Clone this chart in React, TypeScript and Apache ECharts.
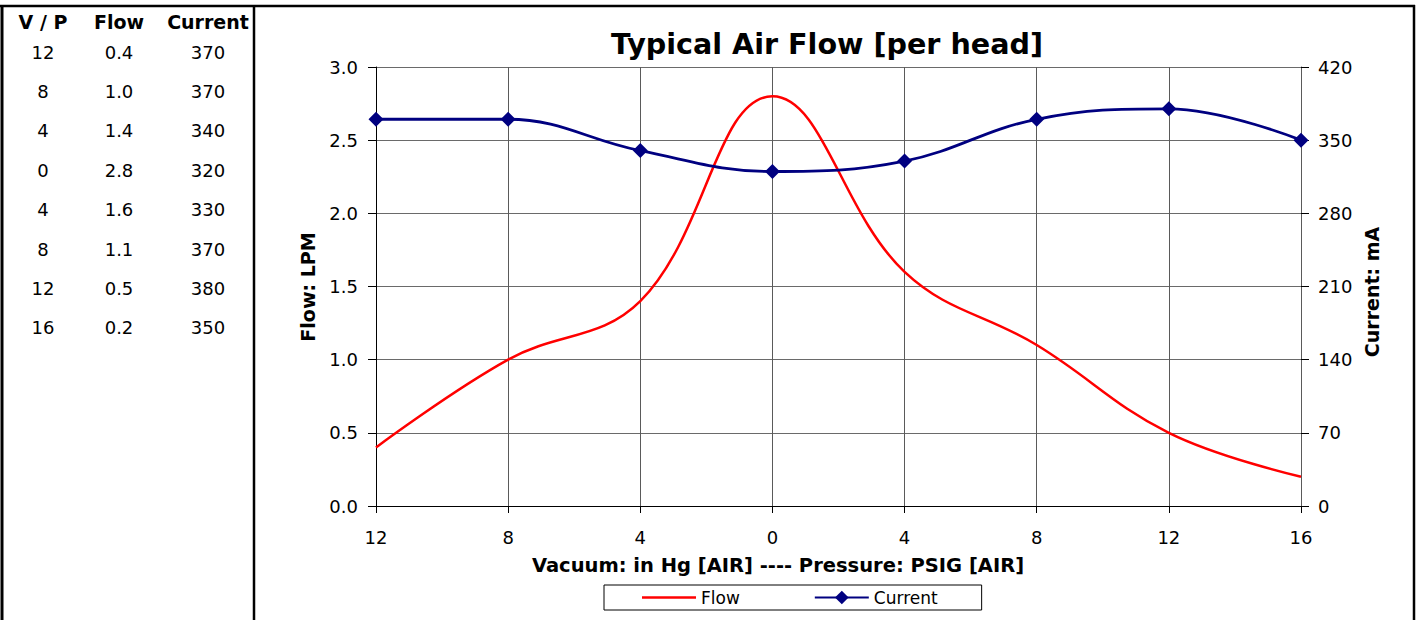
import React, { useEffect, useRef } from "react";
import * as echarts from "echarts";

const categories = ["12", "8", "4", "0", "4", "8", "12", "16"];
const flow = [0.4, 1.0, 1.4, 2.8, 1.6, 1.1, 0.5, 0.2];
const current = [370, 370, 340, 320, 330, 370, 380, 350];
const tableHeaders = ["V / P", "Flow", "Current"];

const titleText = "Typical Air Flow [per head]";
const xName = "Vacuum: in Hg [AIR] ---- Pressure: PSIG [AIR]";
const yLeftName = "Flow: LPM";
const yRightName = "Current: mA";

const FONT = "DejaVu Sans";

export default function App() {
  const ref = useRef<HTMLDivElement>(null);
  useEffect(() => {
    if (!ref.current) return;
    const chart = echarts.init(ref.current, undefined, { renderer: "svg" });

    const colX = [43, 119, 208];
    const tableGraphics: any[] = [];
    tableHeaders.forEach((h, i) => {
      tableGraphics.push({
        type: "text",
        x: colX[i],
        y: 22,
        style: {
          text: h,
          font: `bold 19px "${FONT}"`,
          fill: "#000",
          textAlign: "center",
          textVerticalAlign: "middle",
        },
      });
    });
    categories.forEach((c, r) => {
      const y = 52 + r * 39.4;
      const vals = [c, flow[r].toFixed(1), String(current[r])];
      vals.forEach((v, i) => {
        tableGraphics.push({
          type: "text",
          x: colX[i],
          y,
          style: {
            text: v,
            font: `18px "${FONT}"`,
            fill: "#000",
            textAlign: "center",
            textVerticalAlign: "middle",
          },
        });
      });
    });

    const option: any = {
      animation: false,
      backgroundColor: "#fff",
      textStyle: { fontFamily: FONT },
      grid: { left: 376, right: 122, top: 67, bottom: 114, containLabel: false },
      legend: {
        left: 604,
        top: 585,
        padding: [4, 44, 4, 38],
        itemGap: 74,
        itemWidth: 54,
        itemHeight: 17,
        borderColor: "#000",
        borderWidth: 1,
        borderRadius: 0,
        textStyle: { fontSize: 17, color: "#000", fontFamily: FONT },
        data: [
          { name: "Flow", icon: "path://M0,0 L54,0 L54,2.5 L0,2.5 Z", itemStyle: { color: "#ff0000" } },
          { name: "Current" },
        ],
      },
      xAxis: {
        type: "category",
        data: categories,
        boundaryGap: false,
        axisLine: { lineStyle: { color: "#000", width: 1 } },
        axisTick: { show: true, length: 7, lineStyle: { color: "#000" } },
        axisLabel: { color: "#000", fontSize: 18, margin: 22, fontFamily: FONT },
        splitLine: { show: true, lineStyle: { color: "#5a5a5a", width: 1 } },
      },
      yAxis: [
        {
          type: "value",
          min: 0,
          max: 3,
          interval: 0.5,
          axisLine: { show: true, lineStyle: { color: "#000", width: 1 } },
          axisTick: { show: true, length: 8, lineStyle: { color: "#000" } },
          axisLabel: {
            color: "#000",
            fontSize: 18,
            margin: 18,
            fontFamily: FONT,
            formatter: (v: number) => v.toFixed(1),
          },
          splitLine: { show: true, lineStyle: { color: "#6a6a6a", width: 1 } },
        },
        {
          type: "value",
          min: 0,
          max: 420,
          interval: 70,
          position: "right",
          axisLine: { show: true, lineStyle: { color: "#5a5a5a", width: 1 } },
          axisTick: { show: true, length: 8, lineStyle: { color: "#000" } },
          axisLabel: { color: "#000", fontSize: 18, margin: 17, fontFamily: FONT },
          splitLine: { show: false },
        },
      ],
      series: [
        {
          name: "Flow",
          type: "line",
          data: flow,
          yAxisIndex: 0,
          smooth: 0.4,
          symbol: "none",
          lineStyle: { color: "#ff0000", width: 2.5 },
          itemStyle: { color: "#ff0000" },
          z: 3,
        },
        {
          name: "Current",
          type: "line",
          data: current,
          yAxisIndex: 1,
          smooth: 0.4,
          symbol: "diamond",
          symbolSize: 15,
          lineStyle: { color: "#000080", width: 2.8 },
          itemStyle: { color: "#000080" },
          z: 4,
        },
      ],
      graphic: [
        { type: "line", shape: { x1: 0, y1: 6, x2: 1415, y2: 6 }, style: { stroke: "#000", lineWidth: 2.5 } },
        { type: "line", shape: { x1: 2, y1: 5, x2: 2, y2: 620 }, style: { stroke: "#000", lineWidth: 3 } },
        { type: "line", shape: { x1: 254, y1: 5, x2: 254, y2: 620 }, style: { stroke: "#000", lineWidth: 2.5 } },
        { type: "line", shape: { x1: 1414, y1: 5, x2: 1414, y2: 620 }, style: { stroke: "#000", lineWidth: 2.5 } },
        ...tableGraphics,
        {
          type: "text",
          x: 827,
          y: 44,
          style: {
            text: titleText,
            font: `bold 28.6px "${FONT}"`,
            fill: "#000",
            textAlign: "center",
            textVerticalAlign: "middle",
          },
        },
        {
          type: "text",
          x: 778,
          y: 565,
          style: {
            text: xName,
            font: `bold 19.5px "${FONT}"`,
            fill: "#000",
            textAlign: "center",
            textVerticalAlign: "middle",
          },
        },
        {
          type: "text",
          x: 308,
          y: 287,
          rotation: Math.PI / 2,
          style: {
            text: yLeftName,
            font: `bold 19px "${FONT}"`,
            fill: "#000",
            textAlign: "center",
            textVerticalAlign: "middle",
          },
        },
        {
          type: "text",
          x: 1372,
          y: 292,
          rotation: Math.PI / 2,
          style: {
            text: yRightName,
            font: `bold 19px "${FONT}"`,
            fill: "#000",
            textAlign: "center",
            textVerticalAlign: "middle",
          },
        },
      ],
    };
    chart.setOption(option);
    return () => chart.dispose();
  }, []);
  return (
    <div
      ref={ref}
      style={{ position: "absolute", left: 0, top: 0, width: 1423, height: 620 }}
    />
  );
}
